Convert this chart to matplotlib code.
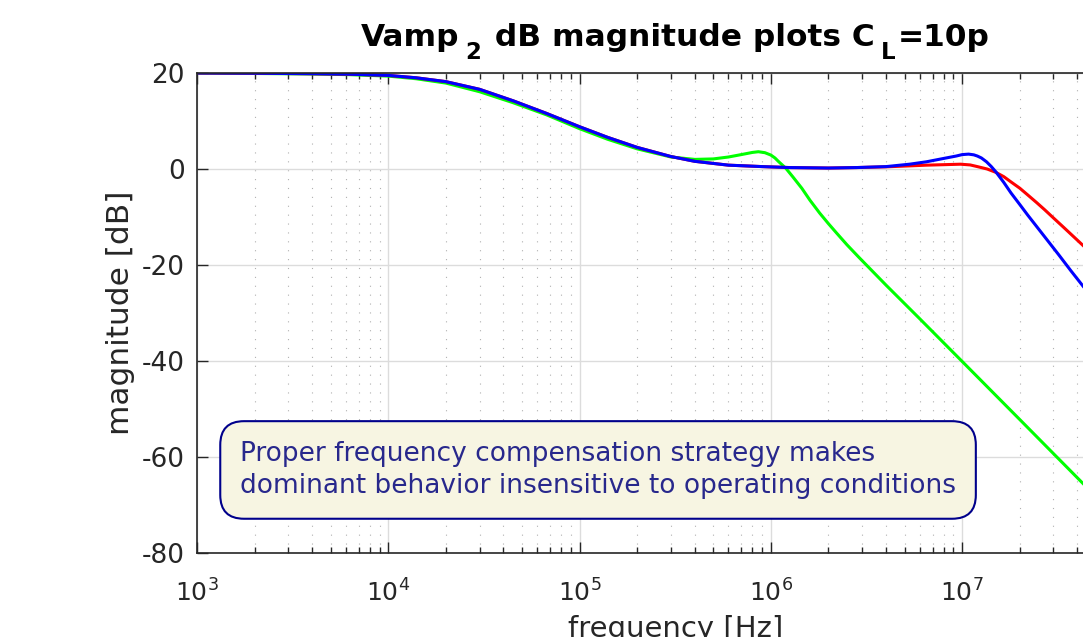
import matplotlib
matplotlib.use('Agg')
import matplotlib.pyplot as plt
from matplotlib.ticker import LogLocator, NullFormatter

# magnitude readings [dB] at frequency points [Hz]
f_green = [1e3, 2e3, 4e3, 6.3e3, 1e4, 1.4e4, 2e4, 3e4, 4.5e4, 6.7e4, 1e5, 1.4e5,
           2e5, 3e5, 4e5, 5e5, 6e5, 7e5, 8e5, 8.6e5, 9.3e5, 1.0e6, 1.05e6, 1.1e6,
           1.15e6, 1.2e6, 1.3e6, 1.45e6, 1.6e6, 1.8e6, 2e6, 2.2e6, 2.5e6, 2.9e6,
           4e6, 6e6, 1e7, 2e7, 4.3e7, 6e7]
m_green = [20.0, 19.9, 19.8, 19.65, 19.35, 18.8, 17.9, 16.1, 13.8, 11.3, 8.4, 6.2,
           4.2, 2.5, 2.0, 2.1, 2.5, 3.0, 3.45, 3.6, 3.4, 2.9, 2.3, 1.5,
           0.8, 0.1, -1.6, -4.0, -6.5, -9.2, -11.4, -13.3, -15.8, -18.5,
           -24.2, -31.2, -40.1, -52.2, -65.6, -71.4]

f_red = [1e3, 2e3, 4e3, 6.3e3, 1e4, 1.4e4, 2e4, 3e4, 4.5e4, 6.7e4, 1e5, 1.4e5,
         2e5, 3e5, 4e5, 6e5, 9e5, 1.25e6, 2e6, 2.8e6, 4e6, 5.3e6, 6.5e6, 8e6,
         9.8e6, 1.1e7, 1.2e7, 1.35e7, 1.5e7, 1.65e7, 1.8e7, 2.0e7, 2.2e7, 2.45e7,
         2.7e7, 3.0e7, 3.4e7, 3.8e7, 4.3e7, 5e7]
m_red = [20.0, 19.95, 19.85, 19.75, 19.5, 19.0, 18.2, 16.6, 14.2, 11.6, 8.8, 6.6,
         4.5, 2.6, 1.6, 0.8, 0.5, 0.3, 0.2, 0.3, 0.45, 0.65, 0.8, 0.9,
         1.0, 0.85, 0.5, 0.0, -0.7, -1.6, -2.7, -4.0, -5.4, -7.0,
         -8.5, -10.2, -12.2, -14.0, -16.0, -18.5]

f_blue = [1e3, 2e3, 4e3, 6.3e3, 1e4, 1.4e4, 2e4, 3e4, 4.5e4, 6.7e4, 1e5, 1.4e5,
          2e5, 3e5, 4e5, 6e5, 9e5, 1.25e6, 2e6, 2.8e6, 4e6, 5.3e6, 6.5e6, 8e6,
          9.3e6, 1.0e7, 1.08e7, 1.15e7, 1.2e7, 1.26e7, 1.34e7, 1.42e7, 1.5e7,
          1.65e7, 1.8e7, 2.0e7, 2.2e7, 2.6e7, 3.2e7, 3.7e7, 4.3e7, 6e7]
m_blue = [20.0, 19.95, 19.85, 19.75, 19.5, 19.0, 18.2, 16.6, 14.2, 11.6, 8.8, 6.6,
          4.5, 2.6, 1.6, 0.8, 0.5, 0.3, 0.2, 0.3, 0.5, 1.0, 1.5, 2.2,
          2.7, 3.0, 3.1, 2.95, 2.7, 2.3, 1.5, 0.5, -0.6,
          -2.8, -5.0, -7.4, -9.6, -13.3, -17.9, -21.2, -24.5, -31.5]

yticks = [-80, -60, -40, -20, 0, 20]
note = ('Proper frequency compensation strategy makes\n'
        'dominant behavior insensitive to operating conditions')
# title in pieces: (text, is_subscript)
title_parts = [('Vamp', False), ('2', True), (' dB magnitude plots C', False),
               ('L', True), ('=10p', False)]

plt.rcParams['font.family'] = 'DejaVu Sans'
plt.rcParams['axes.unicode_minus'] = False

W, H = 1083, 637
fig = plt.figure(figsize=(W / 100, H / 100), dpi=100)
ax = fig.add_axes([197/W, 84/H, 956.5/W, 480/H])

ax.semilogx(f_green, m_green, color='#00ff00', lw=2.2)
ax.semilogx(f_red, m_red, color='#ff0000', lw=2.2)
ax.semilogx(f_blue, m_blue, color='#0000ff', lw=2.2)

ax.set_xlim(1e3, 1e8)
ax.set_ylim(-80, 20)
ax.set_yticks(yticks)
ax.xaxis.set_major_locator(LogLocator(base=10, numticks=10))
ax.xaxis.set_minor_locator(LogLocator(base=10, subs=range(2, 10), numticks=100))
ax.xaxis.set_minor_formatter(NullFormatter())

ax.grid(True, which='major', color='#dcdcdc', lw=1, ls='-')
ax.grid(True, which='minor', axis='x', color='#b0b0b0', lw=0.8, ls=(0, (1, 7)))
ax.set_axisbelow(True)

ax.tick_params(which='both', direction='in', top=True, right=True,
               colors='#262626', width=1)
ax.tick_params(which='major', length=8)
ax.tick_params(which='minor', length=4)
ax.tick_params(axis='y', pad=9, labelsize=19)
ax.tick_params(axis='x', pad=19, labelsize=18)
for s in ax.spines.values():
    s.set_color('#262626')
    s.set_linewidth(1.2)

ax.set_ylabel('magnitude [dB]', fontsize=22.5, color='#262626', labelpad=5)
ax.set_xlabel('frequency [Hz]', fontsize=21, color='#262626', labelpad=6)

# Octave-like title with big, lowered subscripts
renderer = fig.canvas.get_renderer()
pieces = []
x = 0.0
for txt, sub in title_parts:
    if sub:
        x += 6
    t = fig.text(0, 0, txt, fontsize=16.5 if sub else 22.5, fontweight='bold',
                 color='black', va='baseline', ha='left')
    w = t.get_window_extent(renderer).width
    pieces.append((t, x, sub))
    x += w + (3 if sub else 0)
x0 = (197 + 1153.5) / 2 - x / 2
for t, dx, sub in pieces:
    t.set_position(((x0 + dx) / W, (H - (59 if sub else 46)) / H))

ax.text(0.045, 0.173, note, transform=ax.transAxes, fontsize=19,
        color='#28288c', ha='left', va='center', linespacing=1.3,
        bbox=dict(boxstyle='round,pad=0.75,rounding_size=0.9',
                  fc='#f7f5e2', ec='#00008b', lw=1.5))

fig.savefig('out.png', dpi=100)
